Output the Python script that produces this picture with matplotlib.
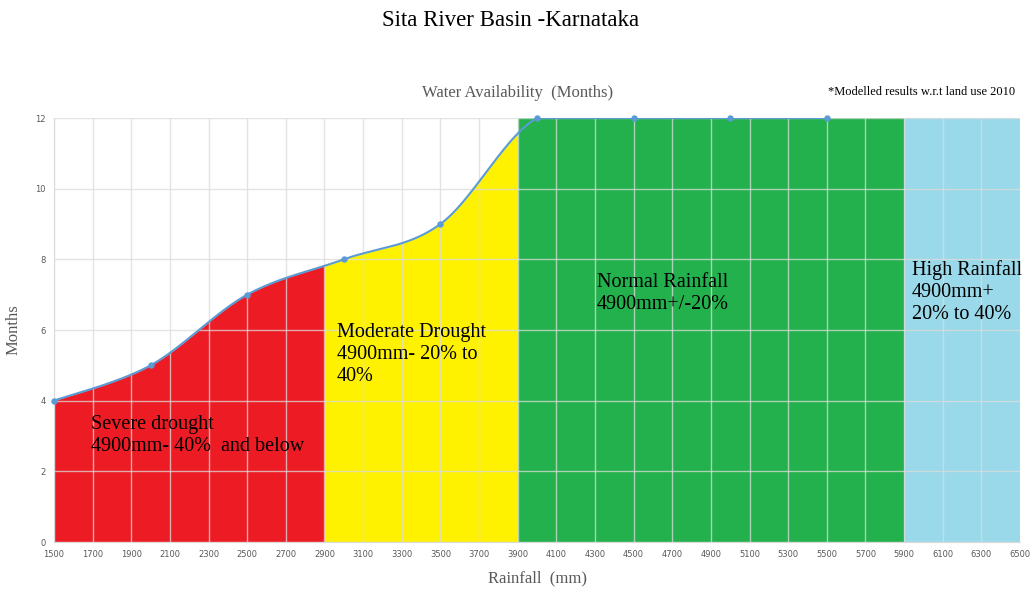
import numpy as np
import matplotlib
matplotlib.use('Agg')
import matplotlib.pyplot as plt

# modelled water availability vs rainfall
rainfall = [1500, 2000, 2500, 3000, 3500, 4000, 4500, 5000, 5500]
months = [4, 5, 7, 8, 9, 12, 12, 12, 12]

# rainfall zones
zone_edges = [1500, 2900, 3900, 5900, 6500]
zone_colors = ['#ED1C24', '#FFF200', '#22B14C', '#99D9EA']
zone_under_curve = [True, True, False, False]
zone_labels = ['Severe drought\n4900mm- 40%  and below',
               'Moderate Drought\n4900mm- 20% to\n40%',
               'Normal Rainfall\n4900mm+/-20%',
               'High Rainfall\n4900mm+\n20% to 40%']

x_ticks = list(range(1500, 6501, 200))
y_ticks = list(range(0, 13, 2))


#excel style smooth line (catmull-rom bezier)
def smooth(x, y, n=60):
    p = np.column_stack([x, y]).astype(float)
    p = np.vstack([p[0], p, p[-1]])
    out = []
    for i in range(1, len(p) - 2):
        p0 = p[i]
        p3 = p[i + 1]
        c1 = p0 + (p[i + 1] - p[i - 1]) / 6
        c2 = p3 - (p[i + 2] - p[i]) / 6
        t = np.linspace(0, 1, n)[:, None]
        seg = (1-t)**3*p0 + 3*(1-t)**2*t*c1 + 3*(1-t)*t**2*c2 + t**3*p3
        out.append(seg if i == 1 else seg[1:])
    out = np.vstack(out)
    return out[:, 0], out[:, 1]


sx, sy = smooth(rainfall, months)
sy_clip = np.minimum(sy, 12)

fig = plt.figure(figsize=(10.36, 5.91), dpi=100)
ax = fig.add_axes([0.0521, 0.0829, 0.9325, 0.7174])

for i in range(len(zone_colors)):
    a, b = zone_edges[i], zone_edges[i + 1]
    if zone_under_curve[i]:
        xx = np.linspace(a, b, 200)
        yy = np.interp(xx, sx, sy_clip)
        ax.fill_between(xx, 0, yy, color=zone_colors[i], lw=0, zorder=1)
    else:
        ax.fill_between([a, b], 0, 12, color=zone_colors[i], lw=0, zorder=1)

ax.plot(sx, sy_clip, color='#5B9BD5', lw=1.5, zorder=3)
ax.plot(rainfall, months, 'o', color='#5B9BD5', ms=3.6, zorder=4, clip_on=False)

ax.set_xlim(1500, 6500)
ax.set_ylim(0, 12)
ax.set_xticks(x_ticks)
ax.set_yticks(y_ticks)
ax.grid(True, color='#dcdcdc', lw=1, alpha=0.75, zorder=2)
ax.set_axisbelow(False)
ax.tick_params(length=0, labelsize=6, colors='#595959', pad=6)
for s in ['top', 'right']:
    ax.spines[s].set_visible(False)
for s in ['left', 'bottom']:
    ax.spines[s].set_color('#d9d9d9')

serif = 'Liberation Serif'
ax.set_xlabel('Rainfall  (mm)', fontsize=12, color='#595959', family=serif, labelpad=8)
ax.set_ylabel('Months', fontsize=12, color='#595959', family=serif, labelpad=10)

text_pos = [(1690, 3.6), (2965, 6.2), (4310, 7.62), (5940, 7.98)]
for (tx, ty), lab in zip(text_pos, zone_labels):
    ax.text(tx, ty, lab, fontsize=14.5, family=serif, va='top', ha='left', zorder=5,
            linespacing=1.2)

fig.text(0.493, 0.965, 'Sita River Basin -Karnataka', ha='center', va='center',
         fontsize=16.5, family=serif)
fig.text(0.5, 0.842, 'Water Availability  (Months)', ha='center', va='center',
         fontsize=12, family=serif, color='#595959')
fig.text(0.98, 0.845, '*Modelled results w.r.t land use 2010', ha='right', va='center',
         fontsize=9, family=serif)

fig.savefig('out.png', dpi=100)
